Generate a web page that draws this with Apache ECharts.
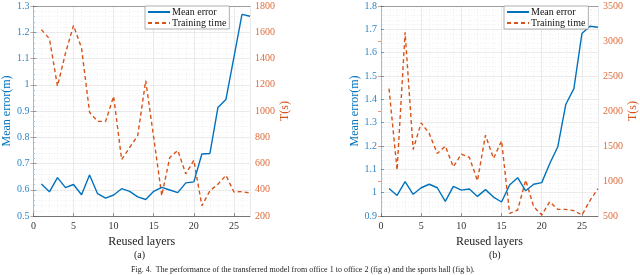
<!DOCTYPE html>
<html>
<head>
<meta charset="utf-8">
<script src="https://cdn.jsdelivr.net/npm/echarts@6/dist/echarts.min.js"></script>
<style>
html,body{margin:0;padding:0;background:#fff;}
#chart{width:640px;height:275px;}
</style>
</head>
<body>
<div id="chart"></div>
<script>
// ---- data ----
const layers = [1,2,3,4,5,6,7,8,9,10,11,12,13,14,15,16,17,18,19,20,21,22,23,24,25,26,27];
const errA  = [0.622,0.592,0.646,0.608,0.620,0.581,0.656,0.585,0.568,0.580,0.604,0.594,0.573,0.563,0.594,0.609,0.599,0.589,0.626,0.630,0.736,0.738,0.913,0.944,1.105,1.268,1.261];
const timeA = [1620,1550,1190,1440,1652,1480,990,921,921,1112,630,722,811,1232,795,355,646,700,520,625,278,392,442,510,383,386,375];
const errB  = [1.018,0.988,1.047,0.993,1.021,1.036,1.021,0.963,1.027,1.011,1.016,0.984,1.013,0.981,0.960,1.033,1.064,1.008,1.036,1.043,1.125,1.197,1.379,1.446,1.682,1.713,1.709];
const timeB = [2320,1156,3125,1451,1831,1679,1394,1498,1203,1384,1337,1004,1655,1322,1574,538,586,1013,633,514,704,595,595,576,514,720,890];
const xTicks = [0,5,10,15,20,25];
const seriesNames = ['Mean error','Training time'];
const axisNames = {x:'Reused layers', yl:'Mean error(m)', yr:'T(s)'};
const captionA = '(a)', captionB = '(b)';
const caption = 'Fig. 4.  The performance of the transferred model from office 1 to office 2 (fig a) and the sports hall (fig b).';

const BLUE = '#0072BD', ORANGE = '#D95319';
const FONT = 'Liberation Serif';
const pair = (xs, ys) => xs.map((x,i)=>[x, ys[i]]);

function xAxes(gi){
  return [
    {gridIndex:gi, type:'value', min:0, max:27, interval:5, position:'bottom',
     name:axisNames.x, nameLocation:'middle', nameGap:13,
     nameTextStyle:{fontFamily:FONT, fontSize:12, color:'#222'},
     axisLine:{lineStyle:{color:'#555', width:0.8}},
     axisTick:{inside:true, length:3, lineStyle:{color:'#555', width:0.6}},
     axisLabel:{fontFamily:FONT, fontSize:10, color:'#333', margin:5, showMaxLabel:false,
        formatter:v=> xTicks.indexOf(v)>=0 ? String(v) : ''},
     splitLine:{show:true, lineStyle:{color:'#e2e2e2', width:0.7}}},
    {gridIndex:gi, type:'value', min:0, max:27, interval:1, position:'top',
     axisLine:{lineStyle:{color:'#888', width:0.8}},
     axisTick:{show:false}, axisLabel:{show:false},
     splitLine:{show:true, lineStyle:{color:'#e8e8e8', width:0.7, type:[1,2]}}}
  ];
}
function yAxes(gi, lmin, lmax, lint, rmin, rmax, rint, lgap, rgap){
  return [
    {gridIndex:gi, type:'value', min:lmin, max:lmax, interval:lint, position:'left',
     name:axisNames.yl, nameLocation:'middle', nameGap:lgap,
     nameTextStyle:{fontFamily:FONT, fontSize:12, color:BLUE},
     axisLine:{show:true, lineStyle:{color:'#5aa2d6', width:0.8}},
     axisTick:{inside:true, length:3, lineStyle:{color:BLUE, width:0.6}},
     minorTick:{show:true, splitNumber:5, length:1.5, lineStyle:{color:'#9cc5e6'}},
     axisLabel:{fontFamily:FONT, fontSize:10, color:'#2f86c8', margin:4,
        formatter:v=> String(Math.round(v*10)/10)},
     splitLine:{show:true, lineStyle:{color:'#e2e2e2', width:0.7}},
     minorSplitLine:{show:true, lineStyle:{color:'#e8e8e8', width:0.7, type:[1,2]}}},
    {gridIndex:gi, type:'value', min:rmin, max:rmax, interval:rint, position:'right',
     name:axisNames.yr, nameLocation:'middle', nameGap:rgap,
     nameTextStyle:{fontFamily:FONT, fontSize:12, color:ORANGE},
     axisLine:{show:true, lineStyle:{color:'#eda98c', width:0.8}},
     axisTick:{inside:true, length:3, lineStyle:{color:ORANGE, width:0.6}},
     axisLabel:{fontFamily:FONT, fontSize:10, color:'#de6a3a', margin:5,
        formatter:v=> String(Math.round(v))},
     splitLine:{show:false}}
  ];
}
function legend(left){
  return {left:left, top:6, orient:'vertical', data:seriesNames,
    backgroundColor:'#fff', borderColor:'#9a9a9a', borderWidth:0.8,
    padding:[1,3,1,2], itemGap:1, itemWidth:22, itemHeight:10,
    selectedMode:false,
    itemStyle:{opacity:0},
    textStyle:{fontFamily:FONT, fontSize:10, color:'#111', padding:[0,0,0,-3]}};
}
function lineS(name, xi, yi, data, color, dashed){
  return {name:name, type:'line', xAxisIndex:xi, yAxisIndex:yi, data:data,
    symbol:'none', showSymbol:false, animation:false, z:3,
    lineStyle:{color:color, width:1.4, type: dashed ? [4,3] : 'solid'},
    itemStyle:{color:color}};
}

const chart = echarts.init(document.getElementById('chart'), null, {renderer:'canvas'});
chart.setOption({
  animation:false,
  backgroundColor:'#fff',
  textStyle:{fontFamily:FONT},
  grid:[{left:31, top:6, width:219, height:210},
        {left:381, top:6, width:218, height:210}],
  xAxis:[...xAxes(0), ...xAxes(1)],
  yAxis:[...yAxes(0, 0.5, 1.3, 0.1, 200, 1800, 200, 16, 26),
         ...yAxes(1, 0.9, 1.8, 0.1, 500, 3500, 500, 18, 29)],
  legend:[legend(145), legend(504)],
  series:[
    lineS(seriesNames[1], 0, 1, pair(layers, timeA), ORANGE, true),
    lineS(seriesNames[0], 0, 0, pair(layers, errA), BLUE, false),
    lineS(seriesNames[1], 2, 3, pair(layers, timeB), ORANGE, true),
    lineS(seriesNames[0], 2, 2, pair(layers, errB), BLUE, false)
  ],
  graphic:[
    {type:'text', left:134, top:250, style:{text:captionA, font:"10px "+FONT, fill:'#222'}},
    {type:'text', left:489, top:250, style:{text:captionB, font:"10px "+FONT, fill:'#222'}},
    {type:'text', left:131, top:266, style:{text:caption, font:"8px "+FONT, fill:'#222'}}
  ]
});
</script>
</body>
</html>
